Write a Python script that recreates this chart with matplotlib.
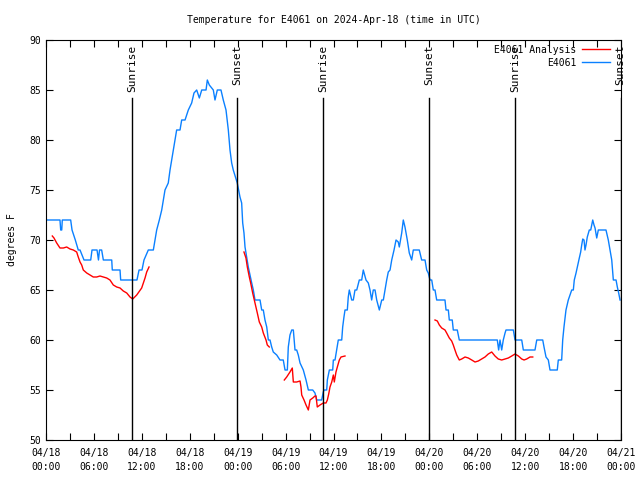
import pandas as pd
import numpy as np
import matplotlib
matplotlib.use("Agg")
import matplotlib.pyplot as plt
import matplotlib.dates as mdates

# hours since 2024-04-18 00:00 UTC
start = pd.Timestamp("2024-04-18 00:00")

obs_hours = [0.0, 1.75, 1.84, 1.97, 2.04, 3.09, 3.26, 3.67, 4.04, 4.26, 4.76, 5.6, 5.76, 6.39, 6.57,
             6.7, 6.97, 7.18, 8.23, 8.3, 9.27, 9.35, 11.39, 11.65, 12.02, 12.27, 12.81, 13.44, 13.65,
             13.86, 14.19, 14.49, 14.69, 14.9, 15.31, 15.53, 15.74, 15.94, 16.15, 16.36, 16.78, 16.99,
             17.41, 17.82, 18.24, 18.53, 18.87, 19.2, 19.5, 20.04, 20.2, 20.45, 20.95, 21.16, 21.45,
             21.91, 22.2, 22.54, 22.83, 23.04, 23.25, 23.45, 23.75, 23.95, 24.29, 24.5, 24.63, 24.79,
             24.92, 25.13, 25.33, 25.54, 25.76, 25.96, 26.17, 26.8, 27.01, 27.21, 27.42, 27.64, 27.84,
             28.05, 28.26, 28.46, 28.89, 29.3, 29.71, 29.93, 30.22, 30.34, 30.55, 30.77, 30.97, 31.18,
             31.39, 31.59, 31.81, 32.22, 32.56, 32.85, 33.4, 33.68, 33.9, 34.52, 34.72, 34.81, 35.15,
             35.23, 35.48, 35.9, 35.98, 36.19, 36.4, 36.6, 37.03, 37.15, 37.31, 37.44, 37.73, 37.85,
             37.98, 38.28, 38.48, 38.69, 38.91, 39.23, 39.53, 39.73, 40.07, 40.36, 40.57, 40.78, 40.98,
             41.2, 41.41, 41.74, 42.04, 42.24, 42.45, 42.66, 42.86, 43.08, 43.29, 43.58, 43.83, 44.11,
             44.24, 44.54, 44.74, 44.95, 45.24, 45.49, 45.79, 45.99, 46.74, 47.04, 47.46, 47.67, 47.87,
             48.08, 48.3, 48.5, 48.71, 48.92, 49.96, 50.09, 50.38, 50.5, 50.87, 51.0, 51.5, 51.75,
             56.51, 56.68, 56.85, 57.06, 57.26, 57.48, 57.6, 58.52, 58.73, 59.57, 59.77, 61.23, 61.45,
             62.2, 62.36, 62.61, 62.9, 63.11, 64.02, 64.15, 64.57, 64.7, 64.86, 65.11, 65.4, 65.7,
             65.83, 66.03, 66.15, 66.37, 66.53, 66.78, 66.95, 67.08, 67.21, 67.37, 67.49, 67.62, 67.78,
             68.03, 68.21, 68.46, 68.62, 68.75, 68.96, 69.16, 70.12, 70.41, 70.62, 70.84, 71.04, 71.38,
             71.54, 71.71, 71.88]
obs_temp = [72, 72, 71, 71, 72, 72, 71, 70, 69, 69, 68, 68, 69, 69, 68,
            69, 69, 68, 68, 67, 67, 66, 66, 67, 67, 68, 69, 69, 70,
            71, 72, 73, 74, 75, 75.7, 77, 78, 79, 80, 81, 81, 82,
            82, 83, 83.7, 84.7, 85, 84.2, 85, 85, 86, 85.5, 85, 84, 85,
            85, 84, 83, 81, 79, 77.7, 77, 76.2, 75.7, 74.3, 73.7, 71.7, 70.7,
            69.3, 68.3, 67.3, 66.5, 65.7, 65, 64, 64, 63, 63, 62, 61.3, 60,
            60, 59.3, 58.8, 58.5, 58, 58, 57, 57, 59.3, 60.5, 61, 61, 59,
            59, 58.5, 57.7, 57, 56, 55, 55, 54.7, 54, 54, 54.8, 55, 55,
            56, 57, 57, 58, 58, 59, 60, 60, 61.3, 62.3, 63, 63, 64.3,
            65, 64, 64, 65, 65, 66, 66, 67, 66, 65.7, 65, 64, 65,
            65, 64, 63, 64, 64, 65, 66, 66.8, 67, 68, 69, 70, 69.8,
            69.3, 70.7, 72, 71.3, 70, 68.7, 68, 69, 69, 68, 68, 67, 66.7,
            66, 66, 65, 65, 64, 64, 63, 63, 62, 62, 61, 61, 60,
            60, 59, 60, 59, 60, 60.7, 61, 61, 60, 60, 59, 59, 60,
            60, 59.3, 58.3, 58, 57, 57, 58, 58, 60, 61.3, 63, 64, 64.7,
            65, 65, 66, 66.7, 67.3, 68.2, 68.8, 69.5, 70.1, 70, 69, 69.5, 70.3,
            71, 71, 72, 71.5, 71.2, 70.2, 71, 71, 70, 69, 68, 66, 66,
            65.3, 64.7, 64]

# analysis series, four separate pieces
ana_hours_1 = [0.79, 1.0, 1.34, 1.75, 2.17, 2.59, 3.01, 3.42, 3.84, 4.04, 4.26, 4.47, 4.67, 5.1,
               5.51, 5.92, 6.35, 6.76, 7.18, 7.6, 8.01, 8.43, 8.85, 9.27, 9.68, 10.11, 10.52, 10.86,
               11.36, 11.98, 12.4, 12.61, 12.9]
ana_temp_1 = [70.4, 70.2, 69.7, 69.2, 69.2, 69.3, 69.1, 69, 68.8, 68.3, 67.8, 67.5, 67, 66.7,
              66.5, 66.3, 66.3, 66.4, 66.3, 66.2, 66, 65.5, 65.3, 65.2, 64.9, 64.7, 64.3, 64.1,
              64.5, 65.2, 66.2, 66.8, 67.3]
ana_hours_2 = [24.79, 25.04, 25.21, 25.46, 25.63, 25.88, 26.17, 26.46, 26.71, 27.01, 27.21, 27.55,
               27.71, 27.96]
ana_temp_2 = [68.8, 68.2, 67.3, 66.3, 65.7, 64.7, 63.7, 62.7, 61.8, 61.3, 60.7, 60, 59.5, 59.3]
ana_hours_3 = [29.84, 30.14, 30.55, 30.84, 30.97, 31.39, 31.81, 31.93, 32.02, 32.31, 32.56, 32.85,
               33.06, 33.4, 33.68, 33.81, 33.97, 34.31, 34.72, 35.06, 35.23, 35.4, 35.56, 35.78,
               35.98, 36.1, 36.31, 36.48, 36.73, 36.94, 37.44]
ana_temp_3 = [56, 56.3, 56.8, 57.2, 55.8, 55.8, 55.9, 55.3, 54.5, 54, 53.5, 53,
              54, 54.2, 54.4, 54.4, 53.3, 53.5, 53.7, 53.7, 54, 54.6, 55.3, 55.8,
              56.5, 55.8, 56.8, 57.3, 58, 58.3, 58.4]
ana_hours_4 = [48.71, 49.0, 49.25, 49.55, 49.96, 50.17, 50.5, 50.8, 51.0, 51.21, 51.43, 51.75,
               52.05, 52.47, 52.88, 53.31, 53.72, 54.13, 54.55, 54.97, 55.38, 55.81, 56.22, 56.63,
               57.06, 57.48, 57.89, 58.32, 58.73, 59.15, 59.57, 59.86, 60.19, 60.61, 60.95]
ana_temp_4 = [62, 61.9, 61.5, 61.2, 61, 60.7, 60.2, 59.9, 59.5, 59, 58.5, 58,
              58.1, 58.3, 58.2, 58, 57.8, 57.9, 58.1, 58.3, 58.6, 58.8, 58.4, 58.1,
              58, 58.1, 58.2, 58.4, 58.6, 58.4, 58.1, 58, 58.1, 58.3, 58.3]

sun_hours = [10.77, 23.92, 34.68, 47.96, 58.73, 71.95]
sun_labels = ["Sunrise", "Sunset", "Sunrise", "Sunset", "Sunrise", "Sunset"]

def to_time(hours):
    return start + pd.to_timedelta(hours, unit="h")

mono = "DejaVu Sans Mono"
fs = 7

fig = plt.figure(figsize=(6.4, 4.8), dpi=100)
ax = fig.add_axes([46 / 640, 40 / 480, 575 / 640, 400 / 480])

blue, = ax.plot(to_time(obs_hours), obs_temp, color="#0a80ff", lw=1.0)
red = None
for hrs, tmp in [(ana_hours_1, ana_temp_1), (ana_hours_2, ana_temp_2),
                 (ana_hours_3, ana_temp_3), (ana_hours_4, ana_temp_4)]:
    red, = ax.plot(to_time(hrs), tmp, color="red", lw=1.0)

for h, lab in zip(sun_hours, sun_labels):
    t = to_time(h)
    ax.plot([t, t], [50, 84.2], color="black", lw=1.0)
    ax.text(t, 89.5, lab, rotation=90, ha="center", va="top", fontsize=8, family=mono)

ax.set_xlim(start, to_time(72))
ax.set_ylim(50, 90)
ax.set_yticks(range(50, 91, 5))
ax.xaxis.set_major_locator(mdates.HourLocator(byhour=[0, 6, 12, 18]))
ax.xaxis.set_minor_locator(mdates.HourLocator(byhour=[3, 9, 15, 21]))
ax.xaxis.set_major_formatter(mdates.DateFormatter("%m/%d\n%H:%M"))
ax.tick_params(which="both", direction="in", top=True, right=True, labelsize=fs, length=5, width=0.8)
for lab in ax.get_xticklabels() + ax.get_yticklabels():
    lab.set_family(mono)
    lab.set_linespacing(1.5)
ax.tick_params(axis="x", pad=6)

ax.set_title("Temperature for E4061 on 2024-Apr-18 (time in UTC)", fontsize=fs, family=mono, pad=12)
ax.set_ylabel("degrees F", fontsize=fs, family=mono, labelpad=9)

leg = ax.legend([red, blue], ["E4061 Analysis", "E4061"], loc="upper right", frameon=False,
                bbox_to_anchor=(1 - 6 / 575, 1.0),
                markerfirst=False, prop={"family": mono, "size": fs}, handlelength=2.9,
                handletextpad=0.6, borderaxespad=0.1, borderpad=0.4, labelspacing=0.3)
for t in leg.get_texts():
    t.set_ha("right")

fig.savefig("out.png", dpi=100)
